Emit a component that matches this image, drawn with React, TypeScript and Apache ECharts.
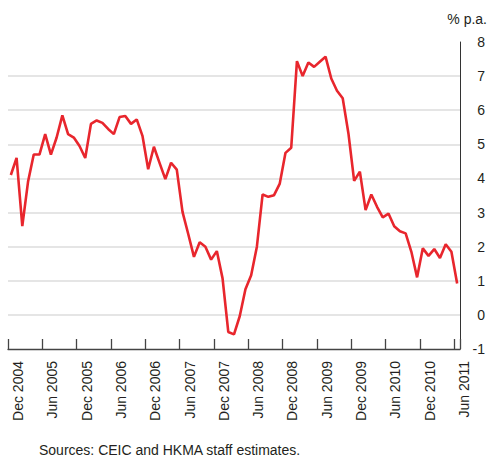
import React, { useEffect, useRef } from "react";
import * as echarts from "echarts";

const MONTHS = ["Jan", "Feb", "Mar", "Apr", "May", "Jun", "Jul", "Aug", "Sep", "Oct", "Nov", "Dec"];

// Monthly categories: Dec 2004 .. Jun 2011
const categories: string[] = [];
for (let y = 2004; y <= 2011; y++) {
  for (let m = 0; m < 12; m++) {
    if (y === 2004 && m < 11) continue;
    if (y === 2011 && m > 5) continue;
    categories.push(`${MONTHS[m]} ${y}`);
  }
}

const values: number[] = [
  4.1, 4.6, 2.6, 3.9, 4.7, 4.7, 5.3, 4.7, 5.2, 5.85, 5.3, 5.2,
  4.95, 4.6, 5.6, 5.7, 5.63, 5.45, 5.3, 5.8, 5.83, 5.6, 5.73, 5.25,
  4.27, 4.93, 4.45, 3.98, 4.46, 4.26, 3.02, 2.37, 1.7, 2.13, 2.0, 1.62,
  1.87, 1.07, -0.5, -0.57, -0.04, 0.75, 1.16, 2.0, 3.53, 3.46, 3.51, 3.85,
  4.75, 4.9, 7.44, 7.0, 7.4, 7.27, 7.42, 7.57, 6.93, 6.57, 6.35, 5.32,
  3.93, 4.2, 3.07, 3.53, 3.17, 2.86, 2.97, 2.6, 2.45, 2.39, 1.85, 1.1,
  1.95, 1.73, 1.93, 1.67, 2.07, 1.85, 0.92,
];

const yMin = -1;
const yMax = 8;
const unitLabel = "% p.a.";
const sourceText = "Sources: CEIC and HKMA staff estimates.";

const FONT = "'Liberation Sans', Arial, Helvetica, sans-serif";

export default function App() {
  const ref = useRef<HTMLDivElement>(null);
  useEffect(() => {
    if (!ref.current) return;
    const chart = echarts.init(ref.current, undefined, { renderer: "svg" });
    chart.setOption({
      animation: false,
      backgroundColor: "#ffffff",
      grid: { left: 8, right: 26, top: 42, bottom: 110, containLabel: false },
      xAxis: {
        type: "category",
        data: categories,
        boundaryGap: true,
        axisLine: { show: true, onZero: false, lineStyle: { color: "#444", width: 1.3 } },
        axisTick: {
          show: true,
          inside: true,
          length: 10,
          interval: (idx: number) => idx % 6 === 0,
          lineStyle: { color: "#444", width: 1.3 },
        },
        axisLabel: {
          show: true,
          rotate: 90,
          margin: 12,
          interval: (idx: number) => idx % 6 === 0,
          fontFamily: FONT,
          fontSize: 14,
          color: "#231f20",
          verticalAlign: "top",
        },
        splitLine: { show: false },
      },
      yAxis: {
        type: "value",
        position: "right",
        min: yMin,
        max: yMax,
        interval: 1,
        axisLine: { show: true, lineStyle: { color: "#333", width: 1 } },
        axisTick: { show: false },
        axisLabel: {
          margin: 25,
          align: "right",
          fontFamily: FONT,
          fontSize: 14,
          color: "#231f20",
        },
        splitLine: {
          show: true,
          showMinLine: false,
          showMaxLine: false,
          lineStyle: { color: "#dddddd", width: 1.6 },
        },
      },
      series: [
        {
          type: "line",
          data: values,
          showSymbol: false,
          symbol: "none",
          lineStyle: { color: "#e8262d", width: 2.6 },
          z: 3,
        },
      ],
      graphic: [
        {
          type: "text",
          right: 1,
          top: 12,
          style: { text: unitLabel, font: `14px ${FONT}`, fill: "#231f20" },
        },
        {
          type: "text",
          left: 39,
          top: 443,
          style: { text: sourceText, font: `14px ${FONT}`, fill: "#231f20" },
        },
      ],
    });
    return () => chart.dispose();
  }, []);
  return (
    <div
      ref={ref}
      style={{ position: "fixed", left: 0, top: 0, width: 488, height: 459 }}
    />
  );
}
